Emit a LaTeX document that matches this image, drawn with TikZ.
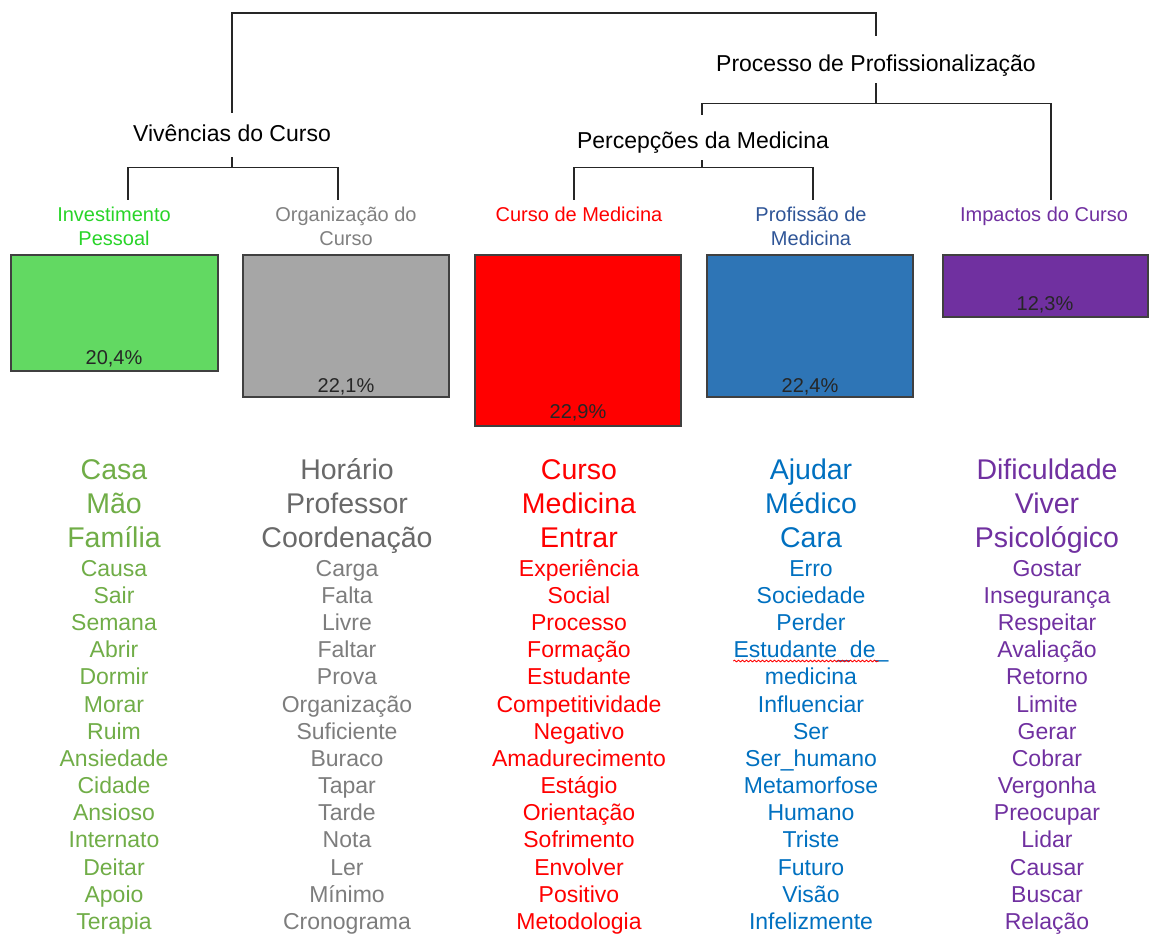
\documentclass[tikz,border=0pt]{standalone}
\usepackage{fontspec}
\setmainfont{Liberation Sans}
\usetikzlibrary{decorations.pathmorphing}

\definecolor{labgreen}{RGB}{40,212,40}
\definecolor{labgrey}{RGB}{128,128,128}
\definecolor{labblue}{RGB}{47,85,151}
\definecolor{labpurple}{RGB}{112,48,160}
\definecolor{bargreen}{RGB}{98,217,98}
\definecolor{bargrey}{RGB}{166,166,166}
\definecolor{barblue}{RGB}{46,117,182}
\definecolor{wgreen}{RGB}{112,173,71}
\definecolor{wgreyA}{RGB}{105,105,105}
\definecolor{wgreyB}{RGB}{125,125,125}
\definecolor{wblue}{RGB}{0,112,192}

\tikzset{
  cat/.style={font=\fontsize{11.5}{14}\selectfont, inner sep=0pt, text height=8.2pt, text depth=0pt},
  leaf/.style={font=\fontsize{10}{12}\selectfont, align=center, anchor=north, inner sep=0pt},
  tree/.style={draw=black!85, line width=0.75pt},
  bar/.style={draw=black!75, line width=0.8pt},
  pct/.style={font=\fontsize{10}{12}\selectfont, text=black!85, inner sep=0pt, text height=7.2pt, text depth=0pt},
  big/.style={font=\fontsize{14.25}{16}\selectfont, inner sep=0pt, text height=10.2pt, text depth=0pt},
  small/.style={font=\fontsize{11.5}{13}\selectfont, inner sep=0pt, text height=8.2pt, text depth=0pt},
  spell/.style={red, line width=0.4pt, decorate, decoration={snake, amplitude=0.45pt, segment length=2pt}}
}

\begin{document}
\begin{tikzpicture}[x=0.5pt, y=-0.5pt]
\useasboundingbox (0,0) rectangle (1149,934);

% tree labels
\node[cat] (proc) at (876,63) {Processo de Profissionalização};
\node[cat] (viv) at (232,133) {Vivências do Curso};
\node[cat] (perc) at (703,140) {Percepções da Medicina};
\coordinate (root) at (554,13);

\node[leaf, text=labgreen] (inv) at (114,207) {Investimento\\Pessoal};
\node[leaf, text=labgrey] (org) at (346,207) {Organização do\\Curso};
\node[leaf, text=red] (cur) at (579,207) {Curso de Medicina};
\node[leaf, text=labblue] (prof) at (811,207) {Profissão de\\Medicina};
\node[leaf, text=labpurple] (imp) at (1044,207) {Impactos do Curso};

% connectors
\draw[tree] ([yshift=5.9pt]viv.north) |- (root) -| ([yshift=9.4pt]proc.north);
\draw[tree] ([yshift=-5.9pt]proc.south) -- ++(0,20) -| ([xshift=-0.5pt,yshift=8.4pt]perc.north);
\draw[tree] ([yshift=-5.9pt]proc.south) -- ++(0,20) -| ([xshift=3.5pt,yshift=3.5pt]imp.north);
\draw[tree] ([yshift=-7.9pt]viv.south) -- ++(0,10) -| ([xshift=7pt,yshift=3.5pt]inv.north);
\draw[tree] ([yshift=-7.9pt]viv.south) -- ++(0,10) -| ([xshift=-4pt,yshift=3.5pt]org.north);
\draw[tree] ([xshift=-0.5pt,yshift=-5.9pt]perc.south) -- ++(0,7) -| ([xshift=-2.5pt,yshift=3.5pt]cur.north);
\draw[tree] ([xshift=-0.5pt,yshift=-5.9pt]perc.south) -- ++(0,7) -| ([xshift=1pt,yshift=3.5pt]prof.north);

% bars
\draw[bar, fill=bargreen] (11,255) rectangle (218,371);
\draw[bar, fill=bargrey] (243,255) rectangle (449,397);
\draw[bar, fill=red] (475,255) rectangle (681,426);
\draw[bar, fill=barblue] (707,255) rectangle (913,397);
\draw[bar, fill=labpurple] (943,255) rectangle (1148,317);
\node[pct] (inv-pct) at (114,357) {20,4\%};
\node[pct] (org-pct) at (346,385) {22,1\%};
\node[pct] (cur-pct) at (578,411) {22,9\%};
\node[pct] (prof-pct) at (810,385) {22,4\%};
\node[pct] (imp-pct) at (1045,303) {12,3\%};

% words
\foreach \w [count=\i] in {Casa,Mão,Família}
  \node[big, text=wgreen] (g-\i) at (114,435+34*\i) {\w};
\foreach \w [count=\i] in {Causa,Sair,Semana,Abrir,Dormir,Morar,Ruim,Ansiedade,Cidade,Ansioso,Internato,Deitar,Apoio,Terapia}
  \node[small, text=wgreen] (gs-\i) at (114,541+27.15*\i) {\w};

\foreach \w [count=\i] in {Horário,Professor,Coordenação}
  \node[big, text=wgreyA] (o-\i) at (347,435+34*\i) {\w};
\foreach \w [count=\i] in {Carga,Falta,Livre,Faltar,Prova,Organização,Suficiente,Buraco,Tapar,Tarde,Nota,Ler,Mínimo,Cronograma}
  \node[small, text=wgreyB] (os-\i) at (347,541+27.15*\i) {\w};

\foreach \w [count=\i] in {Curso,Medicina,Entrar}
  \node[big, text=red] (c-\i) at (579,435+34*\i) {\w};
\foreach \w [count=\i] in {Experiência,Social,Processo,Formação,Estudante,Competitividade,Negativo,Amadurecimento,Estágio,Orientação,Sofrimento,Envolver,Positivo,Metodologia}
  \node[small, text=red] (cs-\i) at (579,541+27.15*\i) {\w};

\foreach \w [count=\i] in {Ajudar,Médico,Cara}
  \node[big, text=wblue] (p-\i) at (811,435+34*\i) {\w};
\foreach \w [count=\i] in {Erro,Sociedade,Perder,Estudante\textunderscore de\textunderscore,medicina,Influenciar,Ser,Ser\textunderscore humano,Metamorfose,Humano,Triste,Futuro,Visão,Infelizmente}
  \node[small, text=wblue] (ps-\i) at (811,541+27.6*\i-0.45*\i) {\w};
\draw[spell] ([yshift=-1.6pt]ps-4.base west) -- ([xshift=-5pt,yshift=-1.6pt]ps-4.base east);

\foreach \w [count=\i] in {Dificuldade,Viver,Psicológico}
  \node[big, text=labpurple] (i-\i) at (1047,435+34*\i) {\w};
\foreach \w [count=\i] in {Gostar,Insegurança,Respeitar,Avaliação,Retorno,Limite,Gerar,Cobrar,Vergonha,Preocupar,Lidar,Causar,Buscar,Relação}
  \node[small, text=labpurple] (is-\i) at (1047,541+27.15*\i) {\w};
\end{tikzpicture}
\end{document}
